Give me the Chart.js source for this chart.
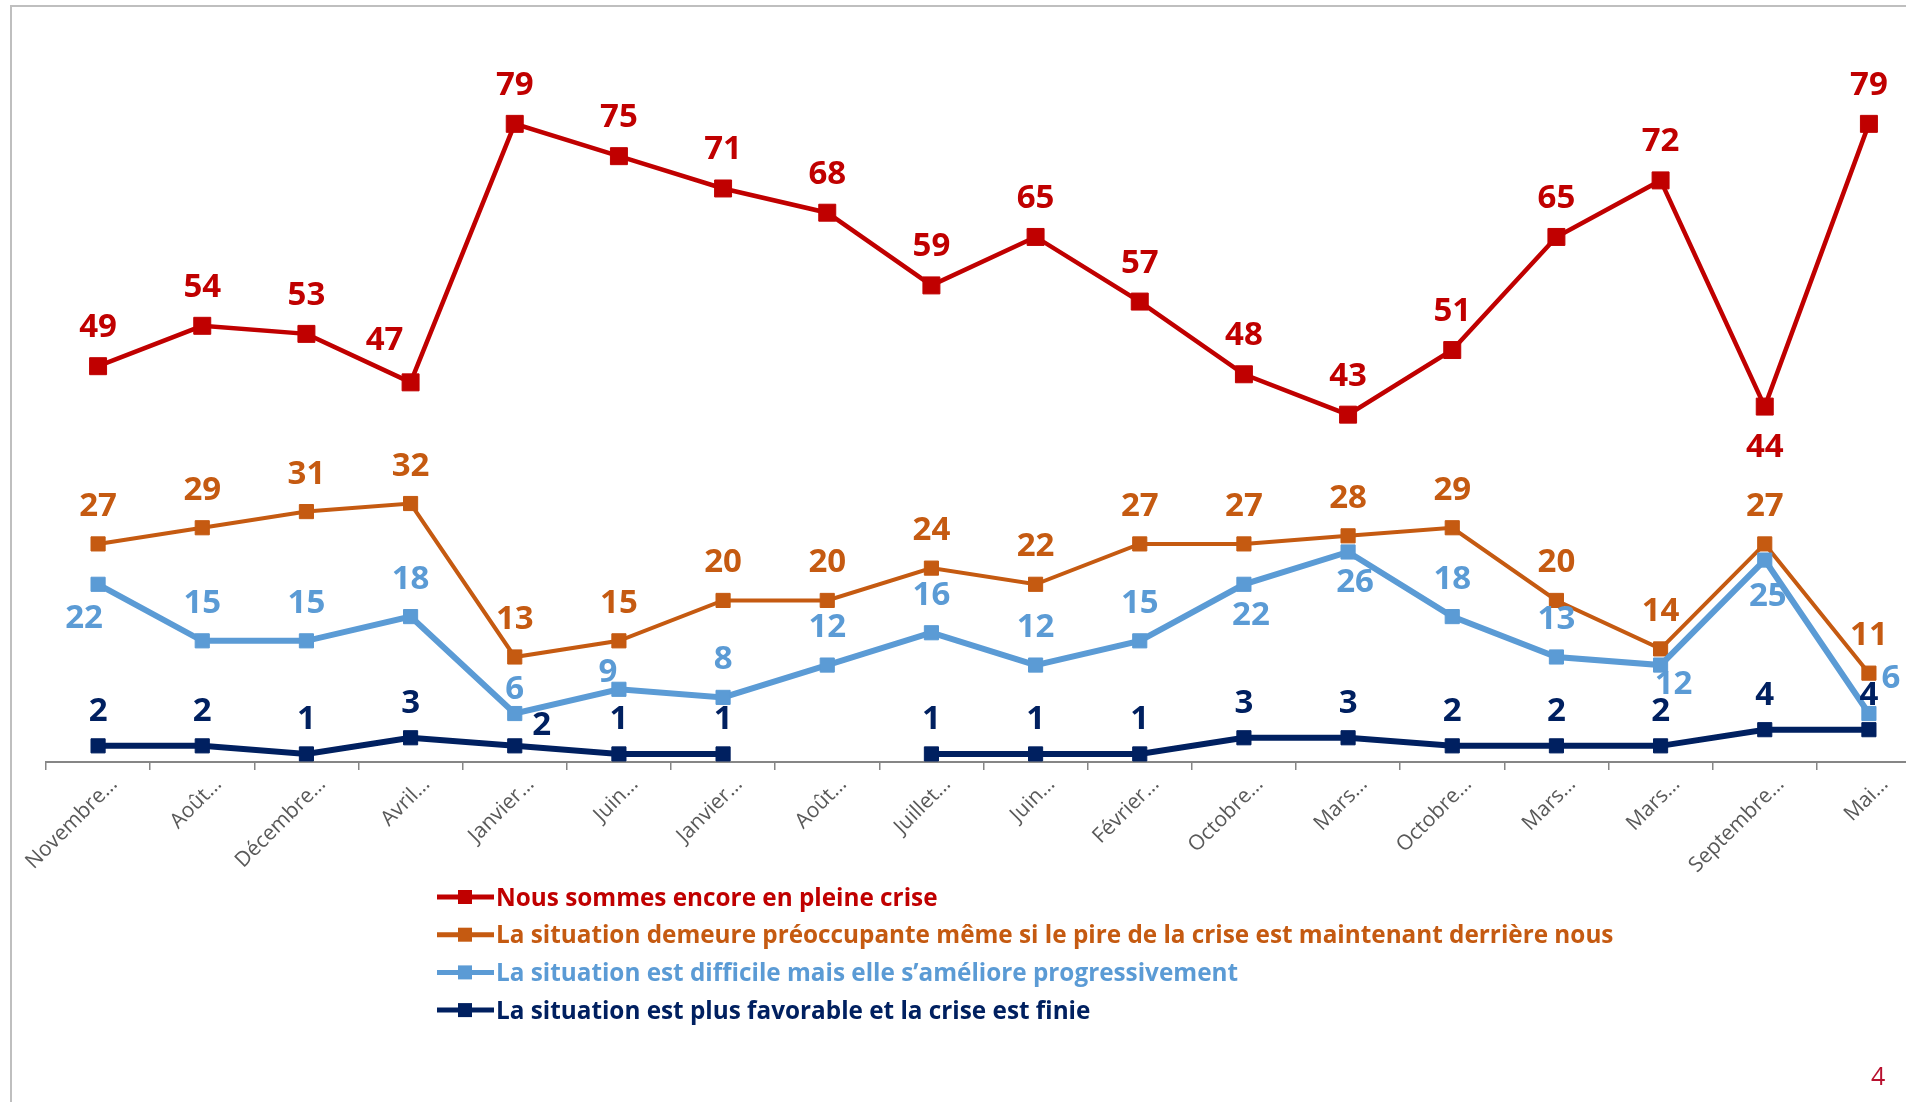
<!DOCTYPE html>
<html>
<head>
<meta charset="utf-8">
<script src="https://cdn.jsdelivr.net/npm/chart.js@4/dist/chart.umd.min.js"></script>
<style>
  html, body { margin: 0; padding: 0; background: #fff; overflow: hidden; }
  #frame { position: absolute; left: 10px; top: 5px; width: 1930px; height: 1110px;
           border-left: 2px solid #bfbfbf; border-top: 2px solid #bfbfbf; }
  #chart { position: absolute; left: 0; top: 0; }
  #pageNum { position: absolute; left: 1871px; top: 1058px; font: 25px "Open Sans"; color: #b8102e; }
</style>
</head>
<body>
<div id="frame"></div>
<canvas id="chart" width="1934" height="1102"></canvas>
<div id="pageNum">4</div>
<script>
const categories = ["Novembre…", "Août…", "Décembre…", "Avril…", "Janvier…", "Juin…", "Janvier…", "Août…", "Juillet…",
  "Juin…", "Février…", "Octobre…", "Mars…", "Octobre…", "Mars…", "Mars…", "Septembre…", "Mai…"];
const pleineCrise = [49, 54, 53, 47, 79, 75, 71, 68, 59, 65, 57, 48, 43, 51, 65, 72, 44, 79];
const preoccupante = [27, 29, 31, 32, 13, 15, 20, 20, 24, 22, 27, 27, 28, 29, 20, 14, 27, 11];
const ameliore = [22, 15, 15, 18, 6, 9, 8, 12, 16, 12, 15, 22, 26, 18, 13, 12, 25, 6];
const finie = [2, 2, 1, 3, 2, 1, 1, null, 1, 1, 1, 3, 3, 2, 2, 2, 4, 4];
const seriesNames = [
  "Nous sommes encore en pleine crise",
  "La situation demeure préoccupante même si le pire de la crise est maintenant derrière nous",
  "La situation est difficile mais elle s’améliore progressivement",
  "La situation est plus favorable et la crise est finie"
];

const colors = ["#c00000", "#c55a11", "#5b9bd5", "#002060"];

// label placement: default offset per series, and a few exceptions (pixels from the point)
const labelDefault = [[0, -41], [0, -40], [0, -40], [0, -37]];
const labelExceptions = [
  { 3: [-26, -44], 16: [0, 38] },
  {},
  { 0: [-14, 32], 4: [0, -27], 5: [-11, -19], 11: [7, 29], 12: [7, 28], 15: [13, 17], 16: [3, 34], 17: [22, -38] },
  { 4: [27, -23] }
];

const valueLabels = {
  id: "valueLabels",
  afterDatasetsDraw(chart) {
    const ctx = chart.ctx;
    ctx.save();
    ctx.font = "bold 33px 'Open Sans'";
    ctx.textAlign = "center";
    ctx.textBaseline = "alphabetic";
    chart.data.datasets.forEach((ds, i) => {
      const meta = chart.getDatasetMeta(i);
      ctx.fillStyle = colors[i];
      meta.data.forEach((pt, j) => {
        const v = ds.data[j];
        if (v === null || v === undefined) return;
        const off = labelExceptions[i][j] || labelDefault[i];
        ctx.fillText(String(v), pt.x + off[0], pt.y + off[1] + 12);
      });
    });
    ctx.restore();
  }
};

const customLegend = {
  id: "customLegend",
  afterDraw(chart) {
    const ctx = chart.ctx;
    ctx.save();
    ctx.font = "bold 24.3px 'Open Sans'";
    ctx.textBaseline = "alphabetic";
    chart.data.datasets.forEach((ds, i) => {
      const y = 897 + i * 37.7;
      ctx.strokeStyle = colors[i];
      ctx.lineWidth = 5;
      ctx.beginPath();
      ctx.moveTo(437, y);
      ctx.lineTo(494, y);
      ctx.stroke();
      ctx.fillStyle = colors[i];
      ctx.fillRect(465 - 7, y - 7, 14, 14);
      ctx.fillText(ds.label, 496, y + 8.5);
    });
    ctx.restore();
  }
};

function series(i, data, width, radius) {
  return {
    label: seriesNames[i],
    data: data,
    borderColor: colors[i],
    backgroundColor: colors[i],
    pointBackgroundColor: colors[i],
    pointBorderColor: colors[i],
    pointBorderWidth: 1,
    borderWidth: width,
    pointStyle: "rect",
    pointRadius: radius,
    tension: 0,
    order: 4 - i
  };
}

new Chart(document.getElementById("chart"), {
  type: "line",
  data: {
    labels: categories,
    datasets: [
      series(0, pleineCrise, 4.5, 12),
      series(1, preoccupante, 4, 10),
      series(2, ameliore, 6, 10),
      series(3, finie, 6, 10)
    ]
  },
  options: {
    responsive: false,
    animation: false,
    devicePixelRatio: 1,
    layout: { padding: { left: 46, top: 35, right: 11, bottom: 190 } },
    plugins: { legend: { display: false }, tooltip: { enabled: false } },
    scales: {
      x: {
        offset: true,
        grid: { drawOnChartArea: false, drawTicks: true, tickLength: 8, color: "#868686", lineWidth: 1.5, offset: true },
        border: { display: true, color: "#868686", width: 2 },
        ticks: {
          autoSkip: false, minRotation: 45, maxRotation: 45, padding: 2, labelOffset: 16,
          color: "#595959", font: { family: "'Open Sans'", size: 21 }
        },
        afterFit(scale) {
          scale.height = 150;
          scale.paddingLeft = 0;
          scale.paddingRight = 0;
        }
      },
      y: { display: false, min: 0, max: 90 }
    }
  },
  plugins: [valueLabels, customLegend]
});
</script>
</body>
</html>
